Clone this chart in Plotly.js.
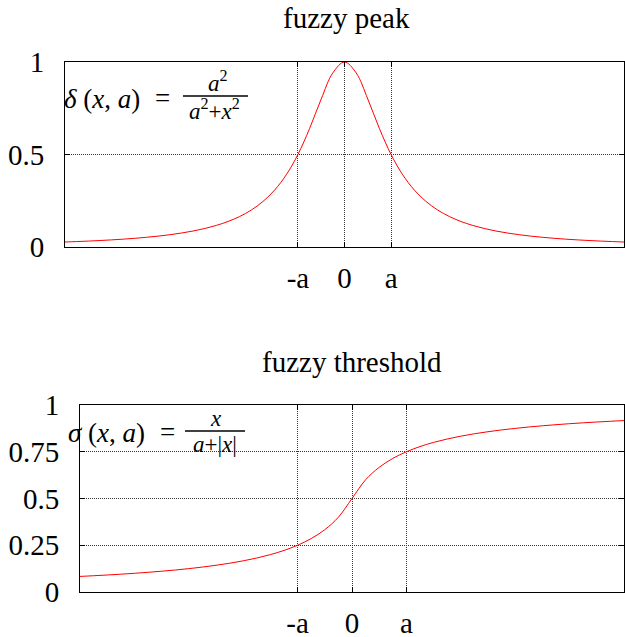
<!DOCTYPE html>
<html><head><meta charset="utf-8">
<script src="https://cdn.plot.ly/plotly-3.0.1.min.js"></script>
<style>html,body{margin:0;padding:0;background:#fff}#plot{width:625px;height:637px}</style>
</head><body><div id="plot"></div>
<script>
const peakX = [-6,-5.75,-5.5,-5.25,-5,-4.75,-4.5,-4.25,-4,-3.75,-3.5,-3.25,-3,-2.75,-2.5,-2.25,-2,-1.75,-1.5,-1.25,-1,-0.75,-0.5,-0.25,0,0.25,0.5,0.75,1,1.25,1.5,1.75,2,2.25,2.5,2.75,3,3.25,3.5,3.75,4,4.25,4.5,4.75,5,5.25,5.5,5.75,6];
const peakY = [0.0270,0.0294,0.0320,0.0350,0.0385,0.0424,0.0471,0.0525,0.0588,0.0664,0.0755,0.0865,0.1,0.1168,0.1379,0.1649,0.2,0.2462,0.3077,0.3902,0.5,0.64,0.8,0.9412,1,0.9412,0.8,0.64,0.5,0.3902,0.3077,0.2462,0.2,0.1649,0.1379,0.1168,0.1,0.0865,0.0755,0.0664,0.0588,0.0525,0.0471,0.0424,0.0385,0.0350,0.0320,0.0294,0.0270];
const thrX = [-5,-4.75,-4.5,-4.25,-4,-3.75,-3.5,-3.25,-3,-2.75,-2.5,-2.25,-2,-1.75,-1.5,-1.25,-1,-0.75,-0.5,-0.25,0,0.25,0.5,0.75,1,1.25,1.5,1.75,2,2.25,2.5,2.75,3,3.25,3.5,3.75,4,4.25,4.5,4.75,5];
const thrY = [0.0833,0.0870,0.0909,0.0952,0.1,0.1053,0.1111,0.1176,0.125,0.1333,0.1429,0.1538,0.1667,0.1818,0.2,0.2222,0.25,0.2857,0.3333,0.4,0.5,0.6,0.6667,0.7143,0.75,0.7778,0.8,0.8182,0.8333,0.8462,0.8571,0.8667,0.875,0.8824,0.8889,0.8947,0.9,0.9048,0.9091,0.9130,0.9167];
const xTickVals = [-1,0,1];
const xTickText = ['-a','0','a'];
const peakYTicks = [0,0.5,1];
const peakYText = ['0','0.5','1'];
const thrYTicks = [0,0.25,0.5,0.75,1];
const thrYText = ['0','0.25','0.5','0.75','1'];
const titles = ['fuzzy peak','fuzzy threshold'];

const W=625,H=637;
function F(size){return {family:'Liberation Serif', size:size, color:'#000'};}
function axisBase(){
  return {showline:true, linecolor:'#000', linewidth:1, mirror:'allticks', ticks:'inside', ticklen:5, tickcolor:'#000',
    showgrid:true, gridcolor:'#333', griddash:'1px,1px', gridwidth:1, zeroline:false, tickfont:F(29), fixedrange:true};
}
const xa1 = Object.assign(axisBase(), {domain:[65/W,624/W], range:[-6,6], tickmode:'array', tickvals:xTickVals, ticktext:xTickText, anchor:'y', ticklabelstandoff:5});
const ya1 = Object.assign(axisBase(), {domain:[1-247/H,1-62/H], range:[0,1], tickmode:'array', tickvals:peakYTicks, ticktext:peakYText, anchor:'x', ticklabelstandoff:14});
const xa2 = Object.assign(axisBase(), {domain:[80/W,624/W], range:[-5,5], tickmode:'array', tickvals:xTickVals, ticktext:xTickText, anchor:'y2', ticklabelstandoff:5});
const ya2 = Object.assign(axisBase(), {domain:[1-592/H,1-405/H], range:[0,1], tickmode:'array', tickvals:thrYTicks, ticktext:thrYText, anchor:'x2', ticklabelstandoff:14});

const data = [
  {x:peakX, y:peakY, xaxis:'x', yaxis:'y', mode:'lines', line:{color:'#ff0000', width:1, shape:'spline'}, hoverinfo:'none'},
  {x:thrX, y:thrY, xaxis:'x2', yaxis:'y2', mode:'lines', line:{color:'#ff0000', width:1, shape:'spline'}, hoverinfo:'none'}
];
function px(x){return x/W;} function py(y){return 1-y/H;}
function A(text, x, y, size, anchor){return {text:text, xref:'paper', yref:'paper', x:px(x), y:py(y), showarrow:false, font:F(size), xanchor:anchor||'center', yanchor:'middle'};}
const annotations = [
  A(titles[0], 346, 18, 29),
  A(titles[1], 352, 362, 29),
  A('<i>δ</i> (<i>x</i>, <i>a</i>)', 62, 99, 27, 'left'),
  A('=', 163, 98, 27),
  A('<i>a</i><sup>2</sup>', 218, 81, 23),
  A('<i>a</i><sup>2</sup>+<i>x</i><sup>2</sup>', 215, 109, 23),
  A('<i>σ</i> (<i>x</i>, <i>a</i>)', 66, 433, 27, 'left'),
  A('=', 167, 432, 27),
  A('<i>x</i>', 216, 418, 23),
  A('<i>a</i>+|<i>x</i>|', 215, 444, 23)
];
const shapes = [
  {type:'line', xref:'paper', yref:'paper', x0:px(183), x1:px(248), y0:py(96), y1:py(96), line:{color:'#000', width:1.5}},
  {type:'line', xref:'paper', yref:'paper', x0:px(185), x1:px(245), y0:py(431), y1:py(431), line:{color:'#000', width:1.5}}
];
const layout = {width:W, height:H, margin:{l:0,r:0,t:0,b:0}, paper_bgcolor:'#fff', plot_bgcolor:'#fff', showlegend:false,
  xaxis:xa1, yaxis:ya1, xaxis2:xa2, yaxis2:ya2, annotations:annotations, shapes:shapes, font:F(24)};
Plotly.newPlot('plot', data, layout, {staticPlot:true, displayModeBar:false});
</script></body></html>
